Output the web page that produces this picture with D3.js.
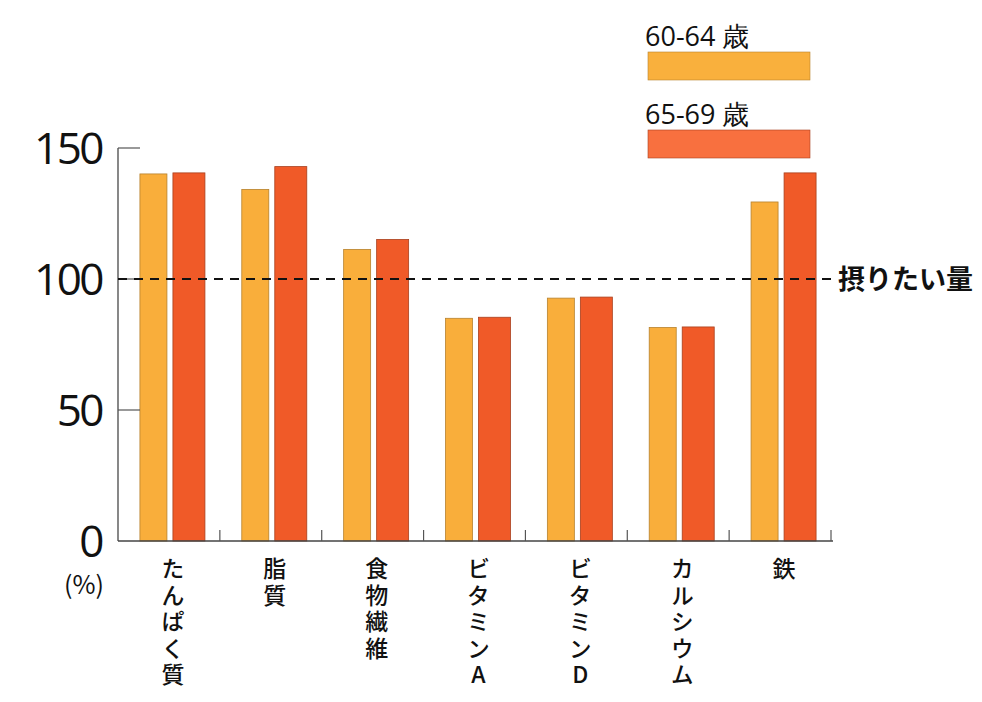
<!DOCTYPE html>
<html><head><meta charset="utf-8">
<script src="https://cdn.jsdelivr.net/npm/d3@7"></script>
<style>
html,body{margin:0;padding:0;background:#fff;}
svg{display:block;}
.vlab{writing-mode:vertical-rl;text-orientation:upright;}
</style></head>
<body>
<svg id="chart" width="982" height="702"></svg>
<script>
const categories = ["たんぱく質","脂質","食物繊維","ビタミンA","ビタミンD","カルシウム","鉄"];
const seriesNames = ["60-64 歳","65-69 歳"];
const values6064 = [140.1, 134.2, 111.3, 85.0, 92.7, 81.5, 129.4];
const values6569 = [140.5, 142.9, 115.1, 85.4, 93.1, 81.7, 140.5];
const yTicks = [0, 50, 100, 150];
const targetValue = 100;
const targetLabel = "摂りたい量";
const unitLabel = "(%)";

const barFill = ["#F9AE3B", "#F05A28"];
const barStroke = ["#B7822E", "#A8401E"];
const legendFill = ["#F9B03D", "#F8703F"];

const svg = d3.select("#chart");
const x = d3.scaleBand().domain(categories).range([118, 831]).padding(0);
const y = d3.scaleLinear().domain([0, 150]).range([541, 148]);

const jp = "'Noto Sans CJK JP', 'Noto Sans', sans-serif";
const num = "'Open Sans', 'Noto Sans', sans-serif";

// bars
const series = [values6064, values6569];
const offsets = [-29, 4];
const widths = [27, 32];
series.forEach((vals, si) => {
  svg.append("g").selectAll("rect").data(vals).join("rect")
    .attr("x", (d, i) => x(categories[i]) + x.bandwidth() / 2 + offsets[si])
    .attr("width", widths[si])
    .attr("y", d => y(d))
    .attr("height", d => y(0) - y(d))
    .attr("fill", barFill[si])
    .attr("stroke", barStroke[si])
    .attr("stroke-width", 0.8);
});

// y axis line
svg.append("line").attr("x1", 118).attr("x2", 118).attr("y1", y(150)).attr("y2", y(0))
  .attr("stroke", "#555").attr("stroke-width", 1.4);
// baseline
svg.append("line").attr("x1", 118).attr("x2", 833).attr("y1", y(0)).attr("y2", y(0))
  .attr("stroke", "#444").attr("stroke-width", 1.4);
// y ticks (inward)
svg.append("g").selectAll("line").data(yTicks.filter(t => t > 0)).join("line")
  .attr("x1", 118).attr("x2", 140).attr("y1", d => y(d)).attr("y2", d => y(d))
  .attr("stroke", "#555").attr("stroke-width", 1.2);
// y tick labels
svg.append("g").selectAll("text").data(yTicks).join("text")
  .attr("x", 102).attr("y", d => y(d) + 16)
  .attr("text-anchor", "end")
  .attr("font-family", num).attr("font-size", 44).attr("letter-spacing", -2.5)
  .attr("fill", "#111")
  .text(d => d);
// category boundary ticks
const bounds = categories.map(c => x(c) + x.bandwidth());
svg.append("g").selectAll("line").data(bounds).join("line")
  .attr("x1", d => d).attr("x2", d => d).attr("y1", y(0)).attr("y2", y(0) - 11)
  .attr("stroke", "#555").attr("stroke-width", 1.2);

// target dashed line
svg.append("line").attr("x1", 118).attr("x2", 833).attr("y1", y(targetValue)).attr("y2", y(targetValue))
  .attr("stroke", "#111").attr("stroke-width", 2).attr("stroke-dasharray", "9,7");
svg.append("text").attr("x", 838).attr("y", y(targetValue) + 10)
  .attr("font-family", jp).attr("font-weight", 700).attr("font-size", 27).attr("fill", "#111")
  .text(targetLabel);

// unit
svg.append("text").attr("x", 64).attr("y", 594)
  .attr("font-family", jp).attr("font-size", 25).attr("fill", "#111").text(unitLabel);

// x labels vertical
svg.append("g").selectAll("text").data(categories).join("text")
  .attr("class", "vlab")
  .attr("x", c => x(c) + x.bandwidth() / 2 + 4)
  .attr("y", 557)
  .attr("font-family", jp).attr("font-weight", 500).attr("font-size", 23)
  .attr("letter-spacing", 3.5)
  .attr("fill", "#111")
  .text(c => c);

// legend
const legY = [52, 130];
seriesNames.forEach((n, i) => {
  svg.append("rect").attr("x", 648).attr("y", legY[i]).attr("width", 162).attr("height", 28)
    .attr("fill", legendFill[i]).attr("stroke", barStroke[i]).attr("stroke-width", 0.6);
  svg.append("text").attr("x", 645).attr("y", legY[i] - 6)
    .attr("font-family", num).attr("font-size", 27).attr("fill", "#111").text(n);
});
</script>
</body></html>
